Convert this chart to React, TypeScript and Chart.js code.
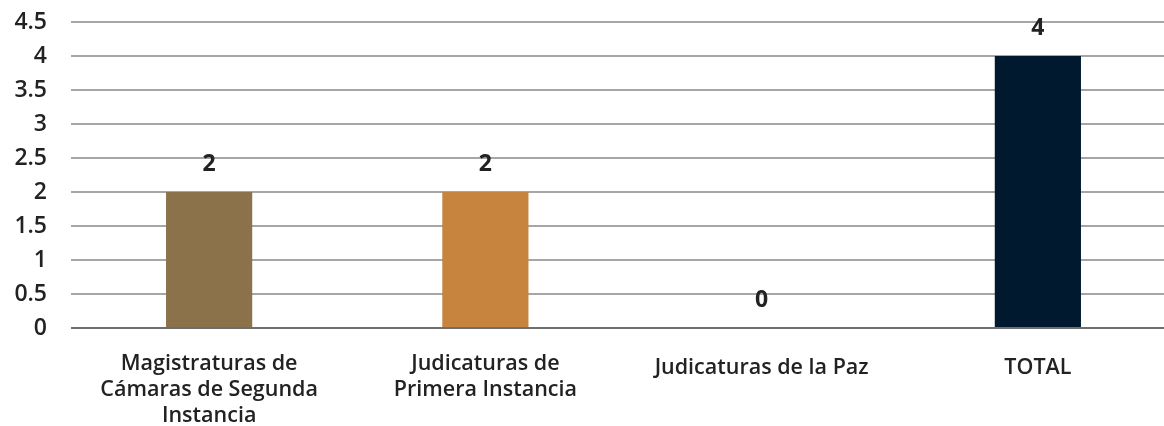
import React, { useEffect, useRef } from "react";
import { Chart, registerables } from "chart.js";

Chart.register(...registerables);

const categories: (string | string[])[] = [
  ["Magistraturas de", "Cámaras de Segunda", "Instancia"],
  ["Judicaturas de", "Primera Instancia"],
  "Judicaturas de la Paz",
  "TOTAL",
];
const values = [2, 2, 0, 4];
const barColors = ["#8C724B", "#C7843F", "#F0F0F0", "#01192E"];
const yMin = 0;
const yMax = 4.5;
const yStep = 0.5;

const FONT = "'Open Sans', Lato, sans-serif";

const dataLabels = {
  id: "dataLabels",
  afterDatasetsDraw(chart: any) {
    const ctx = chart.ctx;
    const meta = chart.getDatasetMeta(0);
    ctx.save();
    ctx.font = `bold 23px ${FONT}`;
    ctx.fillStyle = "#222222";
    ctx.textAlign = "center";
    ctx.textBaseline = "middle";
    meta.data.forEach((el: any, i: number) => {
      const v = chart.data.datasets[0].data[i];
      ctx.fillText(String(v), el.x, el.y - 28);
    });
    ctx.restore();
  },
};

export default function App() {
  const ref = useRef<HTMLCanvasElement>(null);
  useEffect(() => {
    document.body.style.margin = "0";
    document.body.style.overflow = "hidden";
    const chart = new Chart(ref.current!, {
      type: "bar",
      data: {
        labels: categories,
        datasets: [
          {
            data: values,
            backgroundColor: barColors,
            categoryPercentage: 1,
            barPercentage: 0.312,
          },
        ],
      },
      options: {
        animation: false,
        responsive: false,
        layout: { padding: { top: 22, left: 0, right: 0, bottom: 0 } },
        plugins: { legend: { display: false }, tooltip: { enabled: false } },
        scales: {
          x: {
            grid: { display: false },
            border: { display: false },
            ticks: {
              color: "#222222",
              padding: 15,
              maxRotation: 0,
              autoSkip: false,
              font: (c: any) => {
                const lab = categories[c.index];
                const single = !Array.isArray(lab);
                return {
                  family: FONT,
                  size: 21.5,
                  weight: "600",
                  lineHeight: single ? 34 / 21.5 : 26 / 21.5,
                } as any;
              },
            },
            afterFit: (s: any) => {
              s.height = 98;
            },
          },
          y: {
            min: yMin,
            max: yMax,
            border: { display: false },
            grid: {
              drawTicks: true,
              tickLength: 24,
              tickColor: "rgba(0,0,0,0)",
              lineWidth: 2,
              color: (c: any) => (c.tick && c.tick.value === 0 ? "#6E6E6E" : "#A6A6A6"),
            },
            ticks: {
              stepSize: yStep,
              padding: 0,
              color: "#222222",
              font: { family: FONT, size: 23, weight: "600" } as any,
              callback: (v: any) => String(Number(v)),
            },
            afterFit: (s: any) => {
              s.width = 71;
            },
          },
        },
      },
      plugins: [dataLabels],
    });
    return () => chart.destroy();
  }, []);
  return (
    <div style={{ width: 1176, height: 426 }}>
      <canvas ref={ref} width={1176} height={426} />
    </div>
  );
}
